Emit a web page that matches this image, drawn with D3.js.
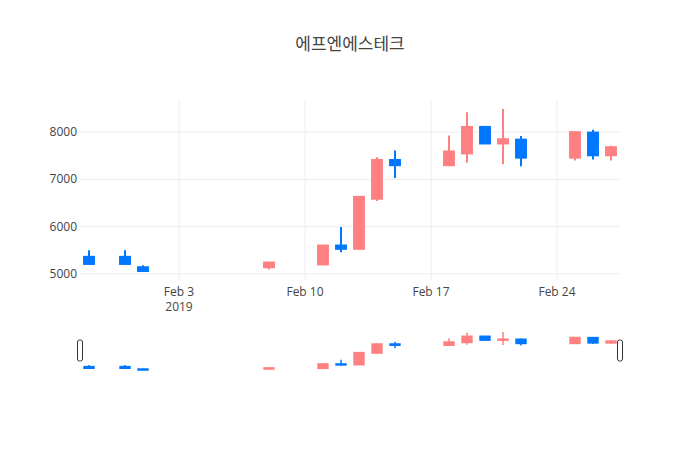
<!DOCTYPE html>
<html><head><meta charset="utf-8">
<script src="https://cdn.jsdelivr.net/npm/d3@7"></script>
<style>body{margin:0;background:#fff}text{font-family:"Open Sans","Noto Sans CJK KR",sans-serif}</style>
</head><body><svg id="c" width="700" height="450"></svg>
<script>
const dates=["2019-01-29","2019-01-31","2019-02-01","2019-02-08","2019-02-11","2019-02-12","2019-02-13","2019-02-14","2019-02-15","2019-02-18","2019-02-19","2019-02-20","2019-02-21","2019-02-22","2019-02-25","2019-02-26","2019-02-27"];
const open =[5360,5360,5140,5140,5200,5600,5530,6590,7410,7300,7550,8110,7760,7840,7460,7990,7510];
const high =[5500,5500,5180,5250,5600,5990,6630,7470,7610,7930,8420,8110,8490,7920,8000,8050,7710];
const low  =[5210,5210,5040,5090,5180,5460,5520,6540,7030,7280,7350,7760,7320,7280,7400,7420,7400];
const close=[5210,5210,5060,5240,5600,5530,6630,7410,7300,7590,8110,7760,7850,7460,8000,7510,7680];
const yTicks=[5000,6000,7000,8000];
const xTicks=["2019-02-03","2019-02-10","2019-02-17","2019-02-24"];
const title="에프엔에스테크";
const UP="#ff8080",DOWN="#0077ff";
const pd=d3.utcParse("%Y-%m-%d");
const data=dates.map((d,i)=>({d:pd(d),o:open[i],h:high[i],l:low[i],c:close[i]}));
const svg=d3.select("#c");
const L=80,R=620;
const x=d3.scaleUtc().domain([Date.UTC(2019,0,28,12),Date.UTC(2019,1,27,12)]).range([L,R]);
const y=d3.scaleLinear().domain([4870,8680]).range([280,100]);
svg.append("text").attr("x",350).attr("y",50).attr("text-anchor","middle").attr("font-size",17).attr("fill","#444").text(title);
const g=svg.append("g");
yTicks.forEach(t=>{g.append("line").attr("x1",L).attr("x2",R).attr("y1",y(t)).attr("y2",y(t)).attr("stroke","#eee");
 g.append("text").attr("x",L-3).attr("y",y(t)+4).attr("text-anchor","end").attr("font-size",12).attr("fill","#444").text(d3.format("d")(t));});
xTicks.forEach((t,i)=>{const xx=x(pd(t));g.append("line").attr("x1",xx).attr("x2",xx).attr("y1",100).attr("y2",280).attr("stroke","#eee");
 g.append("text").attr("x",xx).attr("y",296).attr("text-anchor","middle").attr("font-size",12).attr("fill","#444").text(d3.utcFormat("%b %-d")(pd(t)));
 if(i===0)g.append("text").attr("x",xx).attr("y",311).attr("text-anchor","middle").attr("font-size",12).attr("fill","#444").text("2019");});
const bw=x(Date.UTC(2019,1,2))-x(Date.UTC(2019,1,1));
function candles(sel,ys,w,lw){
 data.forEach(d=>{const col=d.c>=d.o?UP:DOWN,xx=x(d.d);
  sel.append("line").attr("x1",xx).attr("x2",xx).attr("y1",ys(d.h)).attr("y2",ys(d.l)).attr("stroke",col).attr("stroke-width",lw);
  const t=ys(Math.max(d.o,d.c)),b=ys(Math.min(d.o,d.c));
  sel.append("rect").attr("x",xx-w/2).attr("width",w).attr("y",t).attr("height",Math.max(b-t,1)).attr("fill",col).attr("stroke",col).attr("stroke-width",lw);});
}
candles(g,y,bw*0.55,2);
const ys=d3.scaleLinear().domain([4870,8680]).range([372,330]);
const s=svg.append("g");
candles(s,ys,bw*0.55,1.5);
[L,R].forEach(xx=>{s.append("rect").attr("x",xx-2.5).attr("y",340).attr("width",5).attr("height",21).attr("rx",2).attr("fill","#fff").attr("stroke","#333").attr("stroke-width",1);});
</script></body></html>
